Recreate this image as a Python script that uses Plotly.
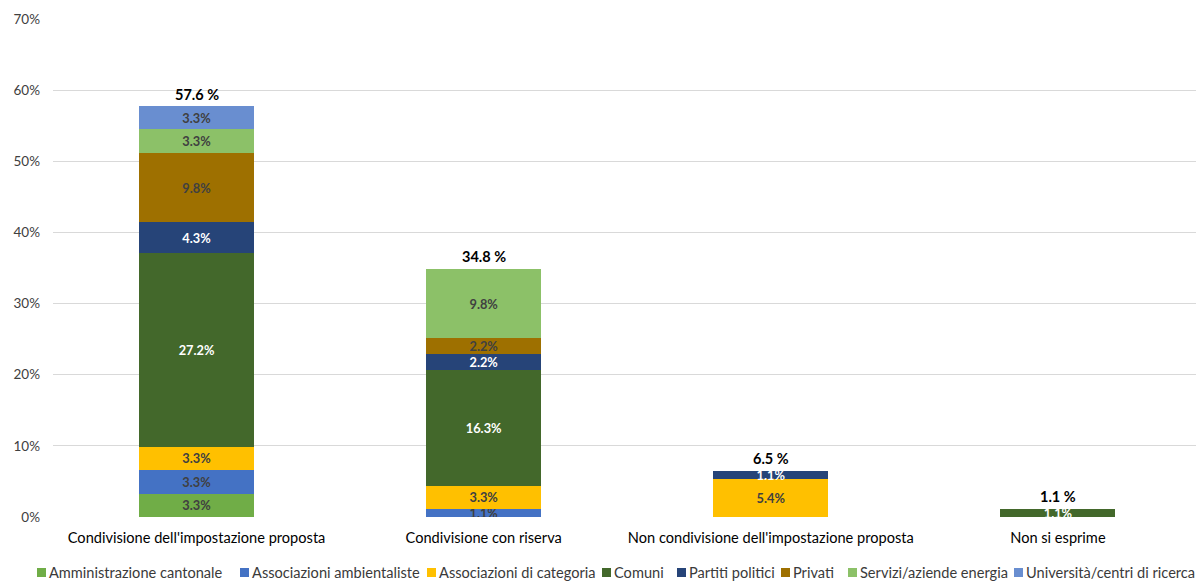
import plotly.graph_objects as go

categories = ["Condivisione dell'impostazione proposta", "Condivisione con riserva",
              "Non condivisione dell'impostazione proposta", "Non si esprime"]

series_names = ["Amministrazione cantonale", "Associazioni ambientaliste", "Associazioni di categoria",
                "Comuni", "Partiti politici", "Privati", "Servizi/aziende energia",
                "Università/centri di ricerca"]

amministrazione = [3.3, 0, 0, 0]
ambientaliste = [3.3, 1.1, 0, 0]
categoria = [3.3, 3.3, 5.4, 0]
comuni = [27.2, 16.3, 0, 1.1]
partiti = [4.3, 2.2, 1.1, 0]
privati = [9.8, 2.2, 0, 0]
servizi = [3.3, 9.8, 0, 0]
universita = [3.3, 0, 0, 0]

totals = [57.6, 34.8, 6.5, 1.1]
total_labels = ["57.6 %", "34.8 %", "6.5 %", "1.1 %"]

y_ticks = [0, 10, 20, 30, 40, 50, 60, 70]
y_ticklabels = ["0%", "10%", "20%", "30%", "40%", "50%", "60%", "70%"]

series_values = [amministrazione, ambientaliste, categoria, comuni, partiti, privati, servizi, universita]
colors = ["#70AD47", "#4472C4", "#FFC000", "#43682B", "#264478", "#9E7000", "#8CC168", "#698ED0"]
text_colors = ["#404040", "#404040", "#404040", "#FFFFFF", "#FFFFFF", "#404040", "#404040", "#404040"]

FONT = "Lato"

fig = go.Figure()
for name, vals, col, tcol in zip(series_names, series_values, colors, text_colors):
    fig.add_trace(go.Bar(
        name=name, x=categories, y=vals, marker=dict(color=col, line=dict(width=0)),
        width=0.40,
        text=[f"{v:.1f}%" if v else "" for v in vals],
        textposition="inside", insidetextanchor="middle", constraintext="none",
        textangle=0,
        textfont=dict(family=FONT, size=12.8, color=tcol, weight="bold"),
        showlegend=False,
    ))

for cat, tot, lab in zip(categories, totals, total_labels):
    fig.add_annotation(x=cat, y=tot, text=f"<b>{lab}</b>", showarrow=False,
                       yanchor="bottom", yshift=2, xref="x", yref="y",
                       font=dict(family=FONT, size=14.5, color="#000000"))

# legend drawn manually (Excel-style compact legend)
legend_x = [37, 240, 427, 602, 677, 781, 848, 1014]
for xpx, name, col in zip(legend_x, series_names, colors):
    fig.add_shape(type="rect", xref="paper", yref="paper",
                  x0=(xpx - 53) / 1143, x1=(xpx - 53 + 9) / 1143,
                  y0=(517 - 577) / 498, y1=(517 - 568) / 498,
                  fillcolor=col, line=dict(width=0))
    fig.add_annotation(xref="paper", yref="paper", x=(xpx - 53 + 10) / 1143, y=(517 - 572.5) / 498,
                       text=name, showarrow=False, xanchor="left", yanchor="middle",
                       font=dict(family=FONT, size=14.6, color="#3A3A3A"))

fig.update_layout(
    barmode="stack",
    width=1196, height=581,
    margin=dict(l=53, r=0, t=19, b=64),
    plot_bgcolor="white", paper_bgcolor="white",
    font=dict(family=FONT),
    showlegend=False,
)
fig.update_xaxes(range=[-0.5, 3.481], showgrid=False, zeroline=False, showline=False,
                 ticks="", ticklabelstandoff=10,
                 tickfont=dict(family=FONT, size=14.6, color="#000000"))
fig.update_yaxes(range=[0, 70], tickvals=y_ticks, ticktext=y_ticklabels,
                 showgrid=True, gridcolor="#D9D9D9", gridwidth=1, zeroline=False,
                 ticks="", ticklabelstandoff=12,
                 tickfont=dict(family=FONT, size=13.5, color="#404040"))

fig.write_html("out.html", config={"displayModeBar": False},
               post_script="document.body.style.margin='0';document.body.style.overflow='hidden';")
